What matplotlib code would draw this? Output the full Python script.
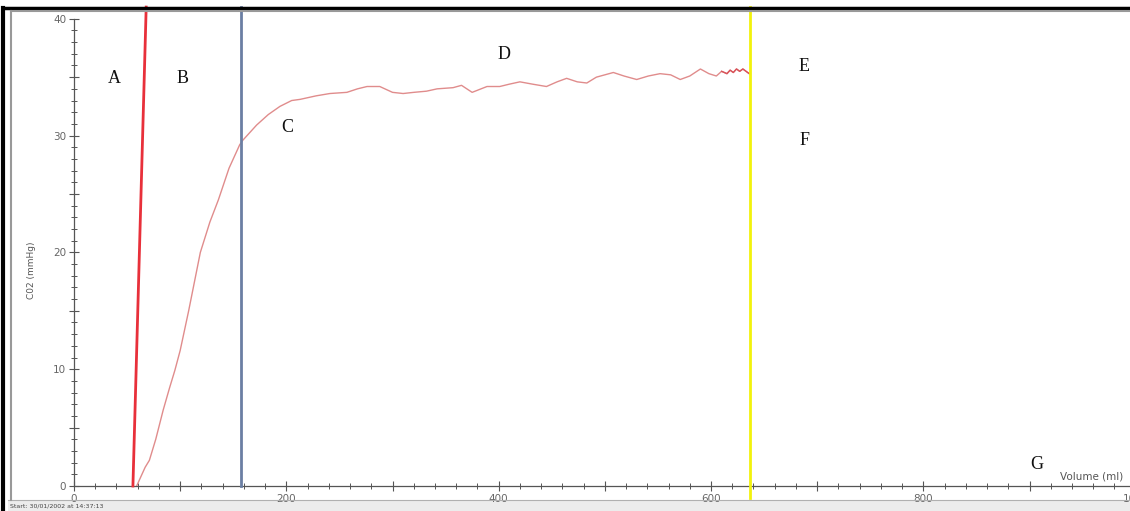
import matplotlib.pyplot as plt
from matplotlib.ticker import MultipleLocator, FuncFormatter
from matplotlib.lines import Line2D
from matplotlib.patches import Rectangle

# CO2 trace (volume in ml, CO2 in mmHg)
volume = [59, 63, 67, 71, 77, 84, 90, 95, 100, 108, 119, 128, 136, 146, 156, 159,
          166, 172, 183, 194, 205, 213, 228, 241, 257, 267, 276, 288, 300, 310,
          320, 332, 342, 357, 365, 375, 389, 401, 410, 420, 432, 445, 455, 464,
          474, 483, 492, 500, 508, 518, 530, 541, 552, 562, 571, 580, 590, 598,
          605, 610, 615, 618, 621, 624, 627, 630, 633, 636]
co2 = [0.0, 0.8, 1.6, 2.2, 4.0, 6.5, 8.4, 9.9, 11.6, 15.0, 20.0, 22.6, 24.5, 27.2,
       29.2, 29.6, 30.3, 30.9, 31.8, 32.5, 33.0, 33.1, 33.4, 33.6, 33.7, 34.0,
       34.2, 34.2, 33.7, 33.6, 33.7, 33.8, 34.0, 34.1, 34.3, 33.7, 34.2, 34.2,
       34.4, 34.6, 34.4, 34.2, 34.6, 34.9, 34.6, 34.5, 35.0, 35.2, 35.4, 35.1,
       34.8, 35.1, 35.3, 35.2, 34.8, 35.1, 35.7, 35.3, 35.1, 35.5, 35.3, 35.6,
       35.4, 35.7, 35.5, 35.7, 35.5, 35.3]

# marker lines
red_x = [55.5, 68]
red_y = [0, 41]
blue_x = 157
yellow_x = 637

# phase labels
labels = ["A", "B", "C", "D", "E", "F", "G"]
label_x = [37.7, 102.6, 200.6, 405, 688, 688, 907]
label_y = [34.9, 34.9, 30.7, 36.9, 35.9, 29.6, 1.8]

W, H = 1130, 511
px_per_ml = 1.0617
x_max = 1012

fig = plt.figure(figsize=(W / 100, H / 100), dpi=100)
fig.patch.set_facecolor("white")

# axes run past the right edge of the figure, as in the screenshot
ax = fig.add_axes([74 / W, 25 / H, x_max * px_per_ml / W, 476 / H])
ax.set_xlim(0, x_max)
ax.set_ylim(0, 40.75)

ax.plot(volume, co2, color="#e08c8c", lw=1.0, zorder=3)
ax.plot(volume[-9:], co2[-9:], color="#d9535a", lw=1.0, zorder=3)
ax.plot(red_x, red_y, color="#e8303a", lw=2.0, zorder=4, clip_on=False)
ax.plot([blue_x, blue_x], [0, 41], color="#6b7fa3", lw=2.0, zorder=4, clip_on=False)
ax.plot([yellow_x, yellow_x], [-1.0, 41], color="#f2f20c", lw=2.0, zorder=4, clip_on=False)

for t, x, y in zip(labels, label_x, label_y):
    ax.text(x, y, t, family="Liberation Serif", fontsize=13, ha="center",
            va="center", color="#111111")

ax.text(929, 0.85, "Volume (ml)", fontsize=7.5, color="#555555", ha="left", va="center")

for s in ["top", "right"]:
    ax.spines[s].set_visible(False)
ax.spines["left"].set_bounds(0, 40)
ax.spines["left"].set_color("#555555")
ax.spines["bottom"].set_color("#555555")
ax.spines["left"].set_linewidth(0.9)
ax.spines["bottom"].set_linewidth(0.9)

ax.yaxis.set_major_locator(MultipleLocator(5))
ax.yaxis.set_minor_locator(MultipleLocator(1))
ax.xaxis.set_major_locator(MultipleLocator(100))
ax.xaxis.set_minor_locator(MultipleLocator(20))
ax.yaxis.set_major_formatter(FuncFormatter(lambda v, p: "%d" % v if v % 10 == 0 else ""))
ax.xaxis.set_major_formatter(FuncFormatter(lambda v, p: "%d" % v if v % 200 == 0 else ""))
ax.tick_params(which="major", direction="inout", length=7, width=0.8, color="#555555",
               labelsize=7.5, labelcolor="#666666", pad=2)
ax.tick_params(which="minor", direction="inout", length=4, width=0.7, color="#555555")

fig.text(32 / W, 1 - 270 / H, "C02 (mmHg)", rotation=90, fontsize=6.5,
         color="#555555", ha="center", va="center")

# status bar
fig.add_artist(Rectangle((8 / W, 0), 1, 11 / H, transform=fig.transFigure,
                         facecolor="#ececec", edgecolor="none", zorder=0))
fig.add_artist(Line2D([8 / W, 1], [11 / H, 11 / H], color="#b0b0b0", lw=0.8))
fig.text(10 / W, 5 / H, "Start: 30/01/2002 at 14:37:13", fontsize=4.5,
         color="#444444", va="center")

# window frame
fig.add_artist(Line2D([3 / W, 3 / W], [0, 1 - 8 / H], color="black", lw=3))
fig.add_artist(Line2D([3 / W, 1], [1 - 8 / H, 1 - 8 / H], color="black", lw=2.5))
fig.add_artist(Line2D([11 / W, 11 / W], [11 / H, 1 - 11 / H], color="#999999", lw=1.5))
fig.add_artist(Line2D([11 / W, 1], [1 - 11 / H, 1 - 11 / H], color="#999999", lw=1.5))

fig.savefig("out.png", dpi=100)
